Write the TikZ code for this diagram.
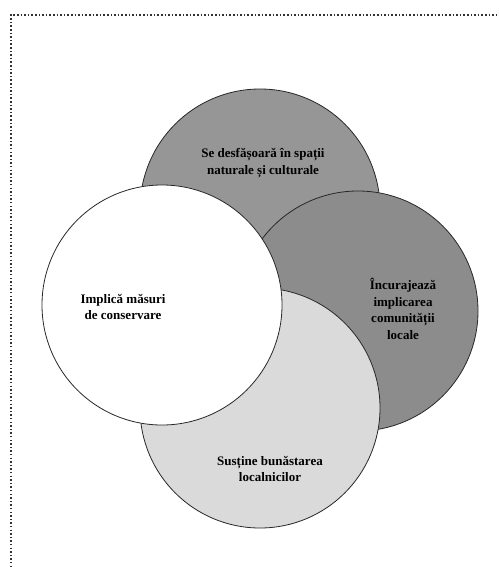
\documentclass[tikz,border=0pt]{standalone}
\usepackage{fontspec}
\setmainfont{Liberation Serif}
\usetikzlibrary{positioning}
\definecolor{topgray}{RGB}{150,150,150}
\definecolor{rightgray}{RGB}{140,140,140}
\definecolor{lightgray1}{RGB}{218,218,218}
\definecolor{edgegray}{RGB}{40,40,40}
\definecolor{dotgray}{RGB}{50,50,50}
\tikzset{
  venn/.style  ={circle, draw=edgegray, line width=0.8pt, minimum size=240pt, inner sep=0pt},
  lbl/.style   ={align=center, font=\fontsize{13}{16.8}\selectfont\bfseries},
  dotframe/.style={draw=dotgray, line width=1.6pt, dash pattern=on 1.5pt off 2.1pt},
}

\begin{document}
\begin{tikzpicture}[x=1pt, y=-1pt]
\useasboundingbox[fill=white] (0,0) rectangle (498,567);
% dotted frame, top and left side only
\coordinate (fa) at (11,567);
\coordinate (fb) at (11,15);
\coordinate (fc) at (498,15);
\draw[dotframe] (fa) -- (fb) -- (fc);
% circles, back to front
\node[venn, fill=topgray] (spatii) at (260,209) {};
\node[venn, fill=rightgray] (comunit) at (358,311) {};
\node[venn, fill=lightgray1] (bunastare) at (260,408) {};
\node[venn, fill=white] (conserv) at (162,305) {};
% labels
\node[lbl] (tspatii) at (263,163) {Se desfășoară în spații\\ naturale și culturale};
\node[lbl] (tconserv) at (123,307) {Implică măsuri\\ de conservare};
\node[lbl] (tcomunit) at (403,309) {Încurajează\\ implicarea\\ comunității\\ locale};
\node[lbl] (tbunastare) at (270,469) {Susține bunăstarea\\ localnicilor};
\end{tikzpicture}
\end{document}
